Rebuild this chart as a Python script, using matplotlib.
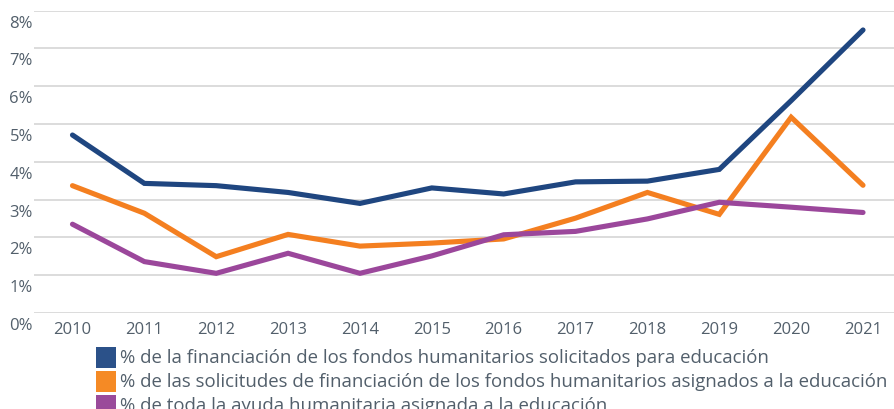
import matplotlib
matplotlib.use("Agg")
import matplotlib.pyplot as plt
from matplotlib.patches import Rectangle
from matplotlib.transforms import blended_transform_factory, offset_copy

plt.rcParams['font.family'] = ['Open Sans', 'DejaVu Sans']

years = ["2010", "2011", "2012", "2013", "2014", "2015", "2016", "2017", "2018", "2019", "2020", "2021"]
financiacion_solicitada = [4.71, 3.43, 3.37, 3.19, 2.90, 3.31, 3.15, 3.47, 3.49, 3.80, 5.62, 7.49]
solicitudes_asignadas = [3.37, 2.64, 1.49, 2.08, 1.77, 1.85, 1.96, 2.51, 3.19, 2.61, 5.18, 3.38]
ayuda_total = [2.35, 1.36, 1.05, 1.58, 1.05, 1.51, 2.07, 2.16, 2.49, 2.93, 2.80, 2.66]
y_ticks = [0, 1, 2, 3, 4, 5, 6, 7, 8]
series_names = [
    "% de la financiación de los fondos humanitarios solicitados para educación",
    "% de las solicitudes de financiación de los fondos humanitarios asignados a la educación",
    "% de toda la ayuda humanitaria asignada a la educación",
]

line_colors = ["#1F4680", "#F47F20", "#9B479B"]
legend_colors = ["#2B5189", "#F58A25", "#9A4A9A"]
text_color = "#525F6B"
grid_color = "#D9D9D9"

W, H = 894, 410
fig = plt.figure(figsize=(W / 100, H / 100), dpi=100)
left_px, right_px = 34, 894
bottom_px, top_px = 314, 11.7
ax = fig.add_axes([left_px / W, (H - bottom_px) / H, (right_px - left_px) / W, (bottom_px - top_px) / H])

x = list(range(len(years)))
for vals, c in zip([financiacion_solicitada, solicitudes_asignadas, ayuda_total], line_colors):
    ax.plot(x, vals, color=c, lw=3.7, solid_capstyle='round', solid_joinstyle='miter', zorder=3, clip_on=False)

step = 71.9
ax.set_xlim(-(72.5 - left_px) / step, 11 + (right_px - 863) / step)
ax.set_ylim(0, 8)
ax.set_yticks(y_ticks)
ax.yaxis.grid(True, color=grid_color, lw=1.3)
ax.set_axisbelow(True)
ax.set_yticklabels([])
ax.tick_params(axis='y', length=0)
ax.set_xticks(x)
ax.set_xticklabels(years, fontsize=12, color=text_color)
ax.tick_params(axis='x', length=0, pad=6)
for s in ax.spines.values():
    s.set_visible(False)

tr = offset_copy(blended_transform_factory(fig.transFigure, ax.transData), fig=fig, x=0, y=-12, units='dots')
for v in y_ticks:
    fig.text(33 / W, v, f"{v}%", transform=tr, ha='right', va='center', fontsize=12, color=text_color)

rows_y = [358.5, 382.5, 406.5]
for name, c, yc in zip(series_names, legend_colors, rows_y):
    fig.patches.append(Rectangle((96 / W, (H - yc - 10.5) / H), 20 / W, 21 / H, transform=fig.transFigure,
                                 facecolor=c, edgecolor='none'))
    fig.text(120 / W, (H - yc) / H, name, ha='left', va='center', fontsize=13.4, color=text_color)

fig.savefig("out.png", dpi=100)
